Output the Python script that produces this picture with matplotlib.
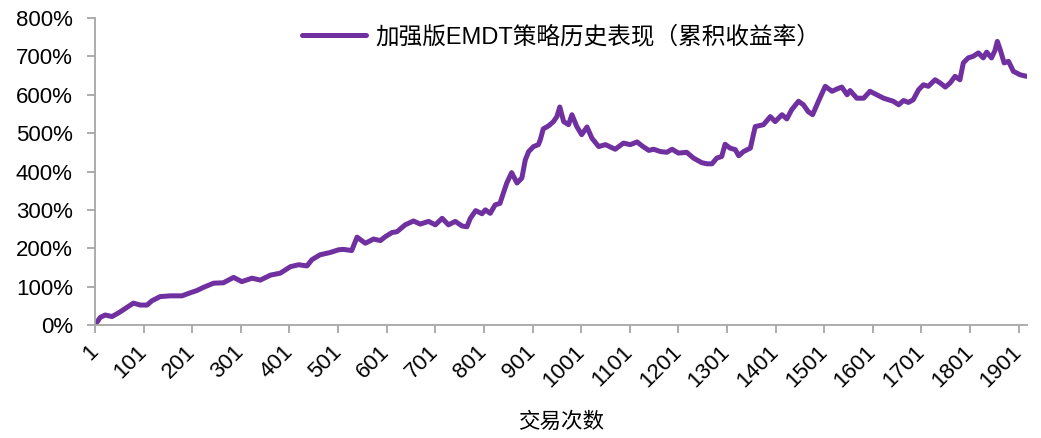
import matplotlib
matplotlib.use("Agg")
import matplotlib.pyplot as plt
from matplotlib.ticker import FixedLocator, FuncFormatter

plt.rcParams['font.family'] = ['Liberation Sans', 'Noto Sans CJK SC', 'DejaVu Sans']

series_name = "加强版EMDT策略历史表现（累积收益率）"
x_label = "交易次数"

trades = [1, 12, 22, 36, 50, 67, 80, 94, 108, 118, 135, 156, 180, 197, 211, 224, 245, 265,
          286, 303, 324, 341, 362, 382, 403, 420, 437, 447, 464, 485, 502, 512, 529, 540,
          557, 574, 588, 598, 612, 622, 639, 656, 670, 687, 701, 715, 728, 742, 756, 766,
          773, 784, 797, 804, 814, 824, 834, 841, 848, 858, 869, 879, 886, 893, 903, 913,
          917, 923, 934, 944, 951, 957, 965, 975, 982, 992, 1002, 1013, 1023, 1037, 1051,
          1061, 1071, 1088, 1102, 1116, 1126, 1140, 1150, 1164, 1177, 1188, 1201, 1218,
          1232, 1249, 1260, 1270, 1280, 1290, 1297, 1307, 1318, 1325, 1335, 1349, 1359,
          1376, 1390, 1400, 1414, 1424, 1434, 1448, 1458, 1468, 1477, 1489, 1503, 1517,
          1527, 1537, 1548, 1554, 1568, 1582, 1595, 1609, 1623, 1633, 1643, 1654, 1664,
          1674, 1684, 1695, 1705, 1715, 1729, 1739, 1750, 1760, 1770, 1780, 1787, 1797,
          1807, 1818, 1828, 1835, 1845, 1852, 1857, 1863, 1871, 1880, 1890, 1904, 1917]

cum_return_pct = [0, 20, 26, 22, 32, 46, 57, 52, 52, 63, 74, 76, 76, 84, 90, 98, 109, 110,
                  124, 113, 122, 117, 130, 135, 152, 157, 154, 170, 183, 189, 196, 197, 194, 229,
                  213, 224, 220, 230, 241, 243, 261, 271, 263, 270, 261, 278, 261, 270, 258, 256,
                  278, 298, 290, 300, 291, 313, 317, 344, 370, 397, 370, 383, 430, 452, 465, 470,
                  483, 511, 519, 530, 543, 568, 530, 522, 548, 517, 496, 516, 487, 465, 470,
                  464, 458, 474, 470, 477, 467, 455, 458, 452, 450, 458, 448, 450,
                  435, 423, 420, 420, 435, 439, 471, 461, 457, 441, 452, 461, 517,
                  522, 543, 530, 548, 537, 561, 583, 574, 556, 548, 583, 622, 609,
                  615, 620, 600, 611, 591, 591, 609, 600, 591, 587, 583, 574, 585,
                  580, 587, 613, 626, 622, 639, 631, 620, 631, 648, 639, 683, 696,
                  700, 709, 696, 711, 696, 715, 739, 717, 683, 687, 661, 652, 648]

x_ticks = list(range(1, 1902, 100))
y_ticks = list(range(0, 801, 100))

fig = plt.figure(figsize=(10.41, 4.38), dpi=100)
ax = fig.add_axes([95 / 1041, (438 - 325) / 438, (1027 - 95) / 1041, (325 - 18) / 438])

line_color = '#7030A0'
ax.plot(trades, cum_return_pct, color=line_color, lw=3.6, solid_joinstyle='round',
        solid_capstyle='round', label=series_name)

ax.set_xlim(1, 1918)
ax.set_ylim(0, 800)
ax.xaxis.set_major_locator(FixedLocator(x_ticks))
ax.yaxis.set_major_locator(FixedLocator(y_ticks))
ax.yaxis.set_major_formatter(FuncFormatter(lambda v, p: f"{int(v)}%"))
ax.set_xticklabels([str(t) for t in x_ticks], rotation=45, ha='right', va='center',
                   rotation_mode='anchor')

spine_color = '#A6A6A6'
for s in ['top', 'right']:
    ax.spines[s].set_visible(False)
for s in ['left', 'bottom']:
    ax.spines[s].set_color(spine_color)
    ax.spines[s].set_linewidth(1.3)
ax.tick_params(axis='both', colors=spine_color, labelcolor='black', labelsize=16,
               length=6, width=1.3, direction='out')
ax.tick_params(axis='y', pad=10)
ax.tick_params(axis='x', pad=11)

ax.set_xlabel(x_label, fontsize=15.5, family=['Noto Sans CJK SC'], labelpad=14)

leg = ax.legend(loc='upper center', bbox_to_anchor=(0.5, 1.045), frameon=False,
                handlelength=2.7, handletextpad=0.4,
                prop={'family': ['Liberation Sans', 'Noto Sans CJK SC'], 'size': 17})

fig.savefig('out.png', dpi=100)
